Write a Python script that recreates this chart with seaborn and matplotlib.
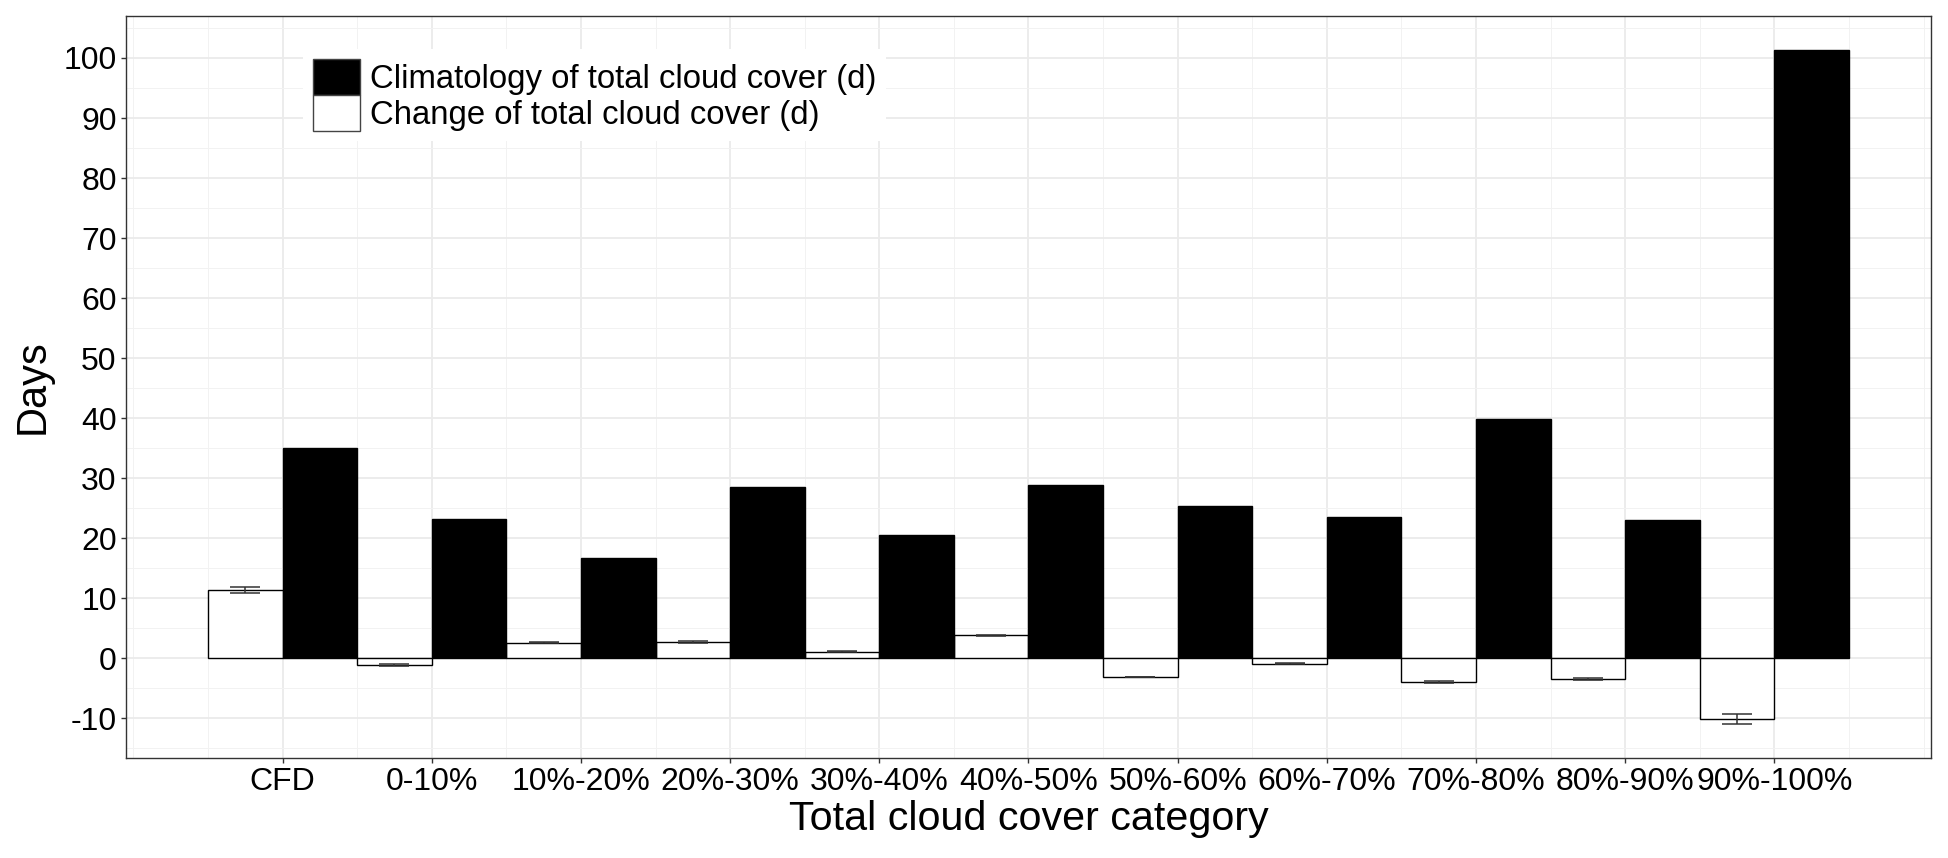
import numpy as np
import pandas as pd
import matplotlib
matplotlib.use("Agg")
import matplotlib.pyplot as plt
import seaborn as sns

# --- data ---
categories = ["CFD", "0-10%", "10%-20%", "20%-30%", "30%-40%", "40%-50%",
              "50%-60%", "60%-70%", "70%-80%", "80%-90%", "90%-100%"]
climatology = [35.0, 23.2, 16.7, 28.5, 20.6, 28.9, 25.4, 23.5, 39.8, 23.1, 101.4]
change = [11.4, -1.1, 2.6, 2.7, 1.1, 3.8, -3.1, -0.9, -4.0, -3.4, -10.1]
change_err = [0.55, 0.15, 0.1, 0.12, 0.1, 0.1, 0.06, 0.06, 0.15, 0.15, 0.85]

clim_label = "Climatology of total cloud cover (d)"
change_label = "Change of total cloud cover (d)"

df = pd.DataFrame({
    "category": categories * 2,
    "days": change + climatology,
    "series": [change_label] * len(categories) + [clim_label] * len(categories),
})

sns.set_theme(style="white")
plt.rcParams["font.family"] = ["Liberation Sans", "DejaVu Sans"]
plt.rcParams["axes.unicode_minus"] = False
plt.rcParams["text.color"] = "black"
plt.rcParams["axes.labelcolor"] = "black"

fig = plt.figure(figsize=(19.49, 8.58), dpi=100)
ax = fig.add_axes([0.0646, 0.1166, 0.9262, 0.8648])

sns.barplot(data=df, x="category", y="days", hue="series",
            order=categories, hue_order=[change_label, clim_label],
            palette={change_label: "white", clim_label: "black"},
            width=1.0, gap=0, saturation=1, errorbar=None,
            edgecolor="black", linewidth=1.0, ax=ax, zorder=3)

# error bars on the change bars, placed at the bar centres
white_bars = [p for p in ax.patches
              if p.get_width() > 0 and tuple(p.get_facecolor()[:3]) == (1.0, 1.0, 1.0)]
white_bars = sorted(white_bars, key=lambda p: p.get_x())[:len(categories)]
xs = [p.get_x() + p.get_width() / 2 for p in white_bars]
ax.errorbar(xs, change, yerr=change_err, fmt="none", ecolor="#333333",
            elinewidth=1.1, capsize=10.8, capthick=1.1, zorder=4)

ax.set_xlim(-1.05, 11.05)
ax.set_ylim(-16.6, 107.0)
ax.set_yticks(np.arange(-10, 101, 10))
ax.set_yticks(np.arange(-15, 106, 10), minor=True)
ax.set_xticks(np.arange(-1, 11.01, 0.5), minor=True)
ax.grid(True, which="major", color="#EBEBEB", linewidth=1.3, zorder=0)
ax.grid(True, which="minor", color="#F2F2F2", linewidth=0.7, zorder=0)
ax.set_axisbelow(True)

for s in ax.spines.values():
    s.set_color("#333333")
    s.set_linewidth(1.0)

ax.tick_params(axis="both", which="major", length=3.6, width=1.0, color="#333333",
               labelsize=23, labelcolor="black", pad=3, bottom=True, left=True)
ax.tick_params(axis="both", which="minor", length=0)

ax.set_xlabel("Total cloud cover category", fontsize=29.7, labelpad=2, color="black")
ax.set_ylabel("Days", fontsize=30, labelpad=8, color="black")

handles, labels = ax.get_legend_handles_labels()
leg = ax.legend(handles[::-1], labels[::-1], loc="upper left",
                bbox_to_anchor=(0.1555, 0.9429), bbox_transform=fig.transFigure,
                frameon=True, fancybox=False, facecolor="white", edgecolor="none",
                framealpha=1, fontsize=23.7, handlelength=1.43, handleheight=1.3,
                handletextpad=0.3, labelspacing=0, borderpad=0.3, borderaxespad=0)
for h in leg.legend_handles:
    h.set_edgecolor("#444444")
    h.set_linewidth(1.0)
for t in leg.get_texts():
    t.set_color("black")

fig.savefig("out.png", dpi=100)
